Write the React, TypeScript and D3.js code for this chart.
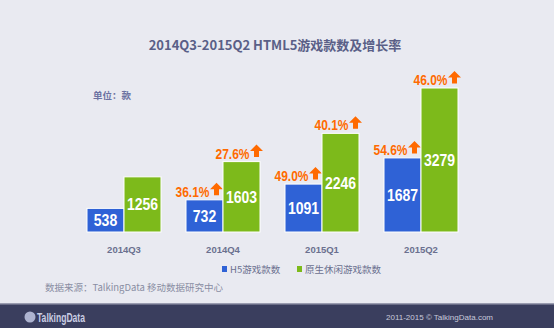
import React from "react";
import * as d3 from "d3";

const categories = ["2014Q3", "2014Q4", "2015Q1", "2015Q2"];
const h5Values = [538, 732, 1091, 1687];
const nativeValues = [1256, 1603, 2246, 3279];
const h5Growth = [null, "36.1%", "49.0%", "54.6%"];
const nativeGrowth = [null, "27.6%", "40.1%", "46.0%"];
const seriesNames = ["H5游戏款数", "原生休闲游戏款数"];
const colors = ["#2F62D6", "#7DBA1B"];

const W = 554;
const H = 328;
const baseY = 232;
const barW = 37;

const numFont = "'Liberation Sans', Arial, sans-serif";
const cnFont = "'Noto Sans CJK SC', 'Noto Sans', sans-serif";

function Arrow({ x, y }: { x: number; y: number }) {
  // up arrow, x = left edge, y = top
  const p = d3.path();
  p.moveTo(x + 6.5, y);
  p.lineTo(x + 13, y + 6.5);
  p.lineTo(x + 9, y + 6.5);
  p.lineTo(x + 9, y + 12.5);
  p.lineTo(x + 4, y + 12.5);
  p.lineTo(x + 4, y + 6.5);
  p.lineTo(x, y + 6.5);
  p.closePath();
  return <path d={p.toString()} fill="#FF6A00" />;
}

export default function App() {
  const x0 = d3.scaleBand<string>().domain(categories).range([74.5, 470.5]).paddingInner(0.25).paddingOuter(0.125);
  const y = d3.scaleLinear().domain([0, 3279]).range([baseY, 88]);
  const series = [h5Values, nativeValues];
  const growth = [h5Growth, nativeGrowth];

  return (
    <svg width={W} height={H} style={{ position: "absolute", left: 0, top: 0, display: "block" }}>
      <rect x={0} y={0} width={W} height={H} fill="#E9EAF1" />
      <text x={275} y={50} textAnchor="middle" fontFamily={cnFont} fontWeight="bold" fontSize={13} fill="#5A5F87">
        2014Q3-2015Q2 HTML5游戏款数及增长率
      </text>
      <text x={93} y={99} fontFamily={cnFont} fontWeight="bold" fontSize={9.5} fill="#6C72A2">
        单位：款
      </text>
      {categories.map((c, i) => {
        const cx = (x0(c) as number) + x0.bandwidth() / 2;
        return (
          <g key={c}>
            {series.map((vals, s) => {
              const bx = s === 0 ? cx - barW : cx;
              const top = y(vals[i]);
              const mid = (top + baseY) / 2;
              const g = growth[s][i];
              const label = String(vals[i]);
              const arrowX = s === 0 ? bx + barW - 13 : bx + barW - 10;
              return (
                <g key={s}>
                  <rect x={bx} y={top} width={barW} height={baseY - top} fill={colors[s]} stroke="#FFFFFF" strokeWidth={1} />
                  <text
                    x={bx + barW / 2}
                    y={mid + 6}
                    textAnchor="middle"
                    fontFamily={numFont}
                    fontWeight="bold"
                    fontSize={16.5}
                    fill="#FFFFFF"
                    textLength={label.length * 7.8}
                    lengthAdjust="spacingAndGlyphs"
                  >
                    {label}
                  </text>
                  {g && (
                    <g>
                      <text
                        x={arrowX - 34.5}
                        y={top - 3}
                        fontFamily={numFont}
                        fontWeight="bold"
                        fontSize={15}
                        fill="#FF6A00"
                        textLength={34}
                        lengthAdjust="spacingAndGlyphs"
                      >
                        {g}
                      </text>
                      <Arrow x={arrowX} y={top - 17} />
                    </g>
                  )}
                </g>
              );
            })}
            <text x={cx} y={253} textAnchor="middle" fontFamily="'Liberation Sans', Arial, sans-serif" fontWeight="bold" fontSize={9.5} fill="#6B708F">
              {c}
            </text>
          </g>
        );
      })}
      {seriesNames.map((n, i) => (
        <g key={n}>
          <rect x={222 + i * 75} y={266} width={5} height={6} fill={colors[i]} />
          <text x={230 + i * 75} y={273} fontFamily={cnFont} fontSize={9.5} fill="#6B708F">
            {n}
          </text>
        </g>
      ))}
      <text x={45} y={291} fontFamily={cnFont} fontSize={9.5} fill="#8A8EA3">
        数据来源：TalkingData 移动数据研究中心
      </text>
      <rect x={0} y={304} width={W} height={24} fill="#3A3E5E" />
      <rect x={0} y={303} width={W} height={1.5} fill="#9A9CB0" />
      <circle cx={30} cy={317} r={5.5} fill="#AEB4D0" />
      <text x={37} y={321.5} fontFamily={numFont} fontWeight="bold" fontSize={12} fill="#C9CDE3" textLength={48} lengthAdjust="spacingAndGlyphs">
        TalkingData
      </text>
      <text x={493} y={320} textAnchor="end" fontFamily="'Liberation Sans', Arial, sans-serif" fontSize={8} fill="#C8CADB">
        2011-2015 © TalkingData.com
      </text>
    </svg>
  );
}
